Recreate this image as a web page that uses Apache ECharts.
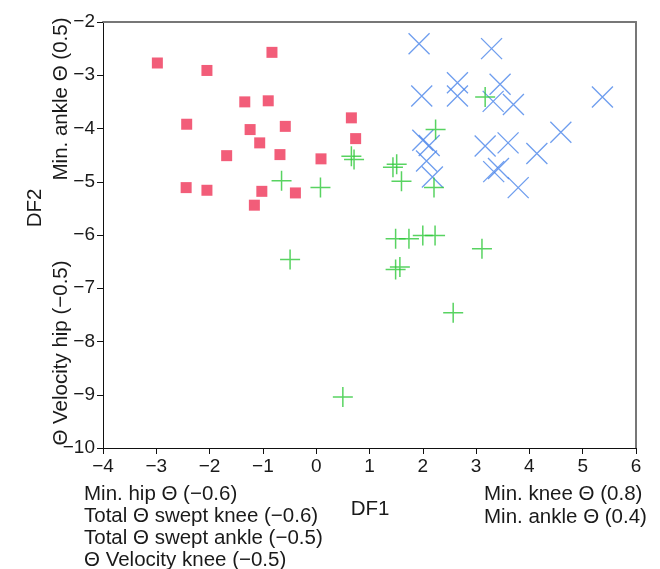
<!DOCTYPE html>
<html>
<head>
<meta charset="utf-8">
<script src="https://cdn.jsdelivr.net/npm/echarts@6/dist/echarts.min.js"></script>
<style>
  html, body { margin: 0; padding: 0; background: #fff; }
  #chart { width: 660px; height: 569px; }
</style>
</head>
<body>
<div id="chart"></div>
<script>
// group 1 (red squares): [DF1, DF2]
var redPoints = [
  [-2.98, -2.77], [-0.83, -2.57], [-2.05, -2.91], [-1.34, -3.50], [-0.90, -3.48],
  [-2.43, -3.92], [-1.24, -4.02], [-0.58, -3.96], [-1.06, -4.27], [-1.68, -4.51],
  [-0.68, -4.49], [0.66, -3.80], [0.74, -4.19], [0.09, -4.57], [-2.44, -5.11],
  [-2.05, -5.16], [-1.02, -5.18], [-0.39, -5.21], [-1.16, -5.44]
];

// group 2 (green plus)
var greenPoints = [
  [-0.65, -4.98], [0.08, -5.11], [0.66, -4.52], [0.71, -4.58], [1.51, -4.67],
  [1.44, -4.73], [1.60, -4.99], [2.21, -5.11], [2.24, -4.02], [3.17, -3.41],
  [-0.49, -6.46], [1.49, -6.07], [1.74, -6.07], [2.00, -6.01], [2.23, -6.01],
  [3.11, -6.26], [1.49, -6.65], [1.57, -6.60], [2.57, -7.46], [0.50, -9.04]
];

// group 3 (blue crosses)
var bluePoints = [
  [1.93, -2.41], [3.29, -2.50], [2.65, -3.14], [3.45, -3.17], [1.98, -3.39],
  [2.65, -3.39], [3.32, -3.49], [3.70, -3.55], [5.37, -3.41], [4.59, -4.07],
  [2.00, -4.22], [2.12, -4.32], [2.07, -4.61], [2.18, -4.91], [3.17, -4.33],
  [3.60, -4.27], [4.14, -4.47], [3.42, -4.75], [3.33, -4.81], [3.79, -5.11]
];

var xRange = [-4, 6];
var yRange = [-10, -2];

var df1Left = ['Min. hip Θ (−0.6)', 'Total Θ swept knee (−0.6)', 'Total Θ swept ankle (−0.5)', 'Θ Velocity knee (−0.5)'];
var df1Right = ['Min. knee Θ (0.8)', 'Min. ankle Θ (0.4)'];
var df2Top = 'Min. ankle Θ (0.5)';
var df2Bottom = 'Θ Velocity hip (−0.5)';

var FONT = '"Liberation Sans", Arial, sans-serif';
var TXT = 20.5;
var minus = function (v) { return String(v).replace('-', '\u2212'); };

var chart = echarts.init(document.getElementById('chart'));

function label(t, x, y, align, rot) {
  return { type: 'text', x: x, y: y, rotation: rot || 0,
    style: { text: t, fontFamily: FONT, fontSize: TXT, fill: '#1a1a1a', textAlign: align, textVerticalAlign: 'middle' } };
}

var graphics = [];
df1Left.forEach(function (t, i) { graphics.push(label(t, 84, 494 + i * 22, 'left')); });
df1Right.forEach(function (t, i) { graphics.push(label(t, 484, 494 + i * 23, 'left')); });
graphics.push(label('DF1', 370, 509, 'center'));
graphics.push(label('DF2', 35, 208, 'center', Math.PI / 2));
graphics.push(label(df2Top, 61, 99, 'center', Math.PI / 2));
graphics.push(label(df2Bottom, 61, 353, 'center', Math.PI / 2));

var option = {
  animation: false,
  backgroundColor: '#fff',
  grid: { left: 103, right: 24, top: 22, bottom: 121, containLabel: false },
  xAxis: [{
    type: 'value', min: xRange[0], max: xRange[1], interval: 1,
    axisLine: { show: true, onZero: false, lineStyle: { color: '#111', width: 1 } },
    axisTick: { show: true, length: 6, lineStyle: { color: '#111' } },
    axisLabel: { margin: 9, fontFamily: FONT, fontSize: 19, color: '#1a1a1a', formatter: minus },
    splitLine: { show: false }
  }, {
    type: 'value', position: 'top', min: xRange[0], max: xRange[1],
    axisLine: { show: true, onZero: false, lineStyle: { color: '#777', width: 2 } },
    axisTick: { show: false }, axisLabel: { show: false }, splitLine: { show: false }
  }],
  yAxis: [{
    type: 'value', min: yRange[0], max: yRange[1], interval: 1,
    axisLine: { show: true, onZero: false, lineStyle: { color: '#111', width: 1 } },
    axisTick: { show: true, length: 6, lineStyle: { color: '#111' } },
    axisLabel: { margin: 8, fontFamily: FONT, fontSize: 19, color: '#1a1a1a', formatter: minus },
    splitLine: { show: false }
  }, {
    type: 'value', position: 'right', min: yRange[0], max: yRange[1],
    axisLine: { show: true, onZero: false, lineStyle: { color: '#777', width: 2 } },
    axisTick: { show: false }, axisLabel: { show: false }, splitLine: { show: false }
  }],
  graphic: graphics,
  series: [{
    name: 'group 1', type: 'scatter', data: redPoints,
    symbol: 'rect', symbolSize: 11,
    itemStyle: { color: '#ef3558' }
  }, {
    name: 'group 3', type: 'scatter', data: bluePoints,
    symbol: 'path://M0,0L20,20M20,0L0,20', symbolSize: 21,
    itemStyle: { color: 'none', borderColor: '#4a85ea', borderWidth: 1.3 }
  }, {
    name: 'group 2', type: 'scatter', data: greenPoints,
    symbol: 'path://M0,10L20,10M10,0L10,20', symbolSize: 20,
    itemStyle: { color: 'none', borderColor: '#2ec83a', borderWidth: 1.5 }
  }]
};

chart.setOption(option);
</script>
</body>
</html>
